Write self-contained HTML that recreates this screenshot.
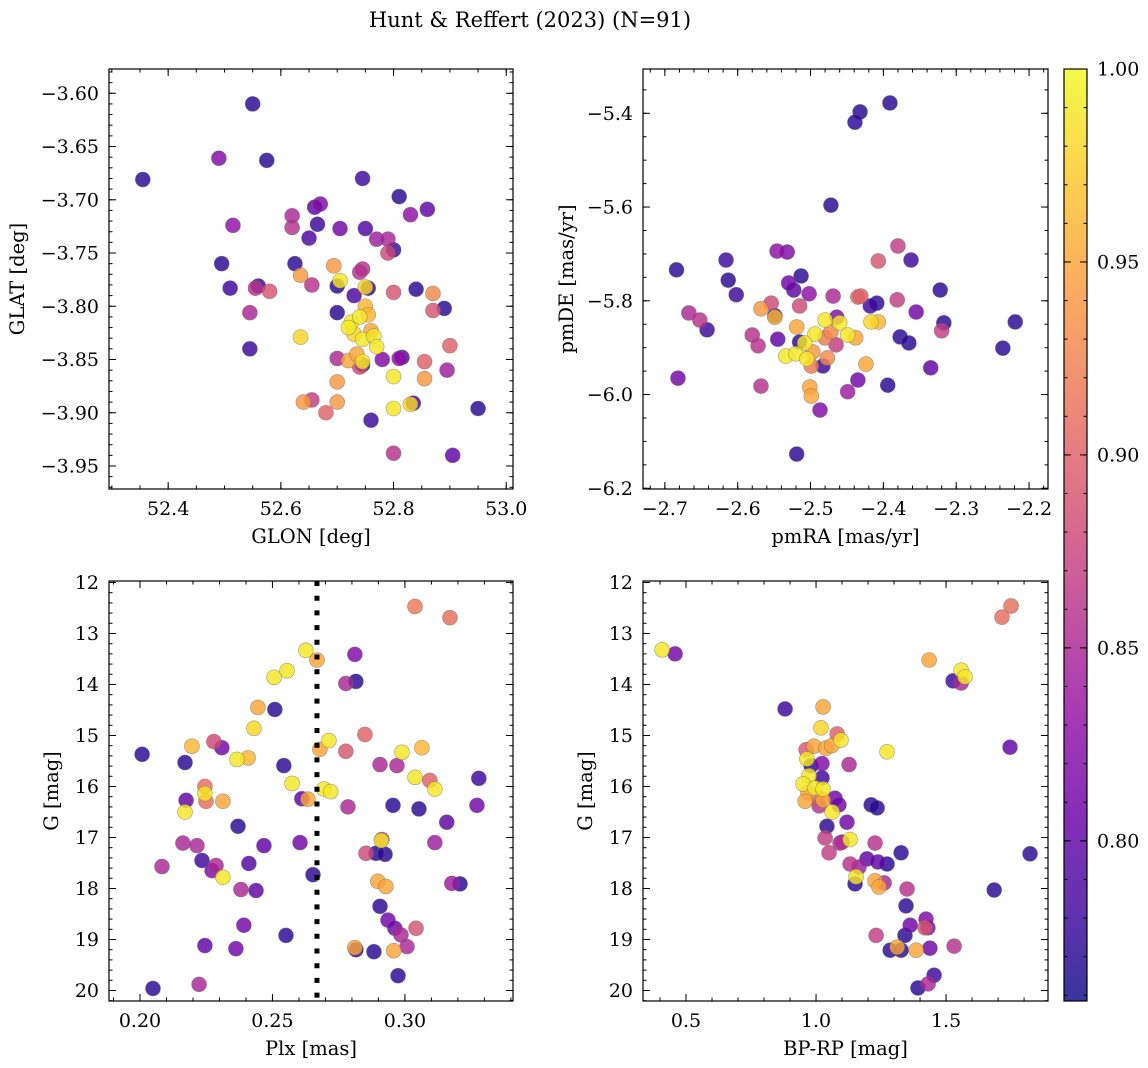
<!DOCTYPE html>
<html><head><meta charset="utf-8"><style>
html,body{margin:0;padding:0;background:#fff;}
svg{display:block;font-family:"DejaVu Serif","Liberation Serif",serif;}
</style></head><body>
<svg id="fig" width="1148" height="1068" viewBox="0 0 1148 1068" xmlns="http://www.w3.org/2000/svg">
<defs><linearGradient id="cbgrad" x1="0" y1="1" x2="0" y2="0">
<stop offset="0" stop-color="#0d0887"/><stop offset="0.1" stop-color="#41049d"/><stop offset="0.2" stop-color="#6a00a8"/><stop offset="0.3" stop-color="#8f0da4"/><stop offset="0.4" stop-color="#b12a90"/><stop offset="0.5" stop-color="#cc4778"/><stop offset="0.6" stop-color="#e16462"/><stop offset="0.7" stop-color="#f2844b"/><stop offset="0.8" stop-color="#fca636"/><stop offset="0.9" stop-color="#fcce25"/><stop offset="1" stop-color="#f0f921"/>
</linearGradient></defs>
<text x="530" y="27" font-size="21" text-anchor="middle">Hunt &amp; Reffert (2023) (N=91)</text>
</svg>
<script>
// ---- Panel 1: GLON vs GLAT ----
const p1_glon=[52.355,52.55,52.49,52.575,52.745,52.81,52.86,52.83,52.67,52.66,52.62,52.62,52.515,52.665,52.705,52.65,52.75,52.77,52.79,52.80,52.79,52.495,52.625,52.694,52.745,52.74,52.51,52.56,52.555,52.58,52.635,52.655,52.705,52.70,52.73,52.75,52.755,52.80,52.87,52.84,52.89,52.87,52.545,52.70,52.75,52.755,52.725,52.74,52.72,52.73,52.745,52.76,52.765,52.77,52.635,52.545,52.90,52.70,52.72,52.735,52.745,52.74,52.745,52.78,52.81,52.815,52.855,52.895,52.80,52.855,52.70,52.64,52.655,52.70,52.68,52.80,52.835,52.83,52.95,52.76,52.80,52.905];
const p1_glat=[-3.681,-3.610,-3.661,-3.663,-3.680,-3.697,-3.709,-3.714,-3.704,-3.707,-3.715,-3.726,-3.724,-3.723,-3.727,-3.736,-3.727,-3.737,-3.737,-3.747,-3.750,-3.760,-3.760,-3.762,-3.765,-3.768,-3.783,-3.781,-3.783,-3.786,-3.771,-3.780,-3.776,-3.781,-3.790,-3.782,-3.783,-3.787,-3.788,-3.784,-3.802,-3.804,-3.806,-3.806,-3.800,-3.808,-3.815,-3.810,-3.820,-3.826,-3.831,-3.823,-3.828,-3.838,-3.829,-3.840,-3.837,-3.849,-3.851,-3.845,-3.852,-3.857,-3.855,-3.850,-3.849,-3.848,-3.852,-3.860,-3.866,-3.868,-3.871,-3.890,-3.888,-3.890,-3.900,-3.896,-3.891,-3.892,-3.896,-3.907,-3.938,-3.940];
const p1_prob=[.77,.77,.82,.77,.78,.77,.80,.83,.82,.80,.85,.86,.83,.78,.81,.79,.79,.84,.85,.78,.88,.77,.77,.94,.86,.86,.78,.78,.86,.89,.94,.86,.99,.77,.79,.98,.77,.89,.93,.77,.77,.89,.85,.77,.96,.96,.99,.99,.99,.98,.99,.95,.99,.99,.98,.78,.90,.85,.95,.95,.99,.88,.78,.82,.83,.79,.90,.84,.99,.94,.94,.94,.87,.94,.90,.99,.78,.98,.77,.78,.86,.80];
const p1_xticks=[52.4,52.6,52.8,53.0];
const p1_xtlabels=["52.4","52.6","52.8","53.0"];
const p1_yticks=[-3.60,-3.65,-3.70,-3.75,-3.80,-3.85,-3.90,-3.95];
const p1_ytlabels=["\u22123.60","\u22123.65","\u22123.70","\u22123.75","\u22123.80","\u22123.85","\u22123.90","\u22123.95"];

// ---- Panel 2: pmRA vs pmDE ----
const p2_pmra=[-2.391,-2.432,-2.439,-2.472,-2.546,-2.532,-2.380,-2.407,-2.362,-2.616,-2.684,-2.613,-2.513,-2.530,-2.523,-2.502,-2.602,-2.469,-2.322,-2.435,-2.431,-2.554,-2.515,-2.418,-2.409,-2.381,-2.355,-2.667,-2.652,-2.642,-2.568,-2.549,-2.549,-2.317,-2.320,-2.219,-2.236,-2.464,-2.480,-2.460,-2.417,-2.407,-2.519,-2.494,-2.449,-2.438,-2.472,-2.480,-2.508,-2.465,-2.580,-2.572,-2.545,-2.515,-2.534,-2.520,-2.505,-2.497,-2.477,-2.499,-2.483,-2.424,-2.377,-2.365,-2.335,-2.682,-2.568,-2.501,-2.499,-2.435,-2.394,-2.449,-2.487,-2.519];
const p2_pmde=[-5.378,-5.397,-5.419,-5.596,-5.694,-5.696,-5.683,-5.715,-5.713,-5.713,-5.734,-5.756,-5.747,-5.762,-5.777,-5.785,-5.787,-5.790,-5.777,-5.792,-5.790,-5.805,-5.811,-5.811,-5.805,-5.798,-5.824,-5.826,-5.841,-5.862,-5.817,-5.832,-5.835,-5.847,-5.864,-5.845,-5.901,-5.835,-5.841,-5.847,-5.845,-5.845,-5.856,-5.871,-5.873,-5.879,-5.866,-5.879,-5.890,-5.894,-5.873,-5.896,-5.882,-5.888,-5.918,-5.913,-5.924,-5.909,-5.922,-5.939,-5.939,-5.935,-5.877,-5.890,-5.943,-5.965,-5.982,-5.984,-6.003,-5.969,-5.980,-5.994,-6.033,-6.127];
const p2_prob=[.77,.77,.77,.77,.83,.82,.87,.89,.78,.78,.77,.77,.77,.81,.80,.83,.78,.85,.77,.90,.90,.88,.88,.78,.77,.87,.81,.85,.86,.78,.94,.77,.96,.77,.87,.77,.77,.82,.99,.99,.98,.96,.95,.99,.99,.95,.93,.92,.99,.87,.86,.86,.80,.77,.99,.99,.99,.94,.93,.92,.78,.95,.77,.77,.80,.81,.86,.95,.95,.81,.77,.84,.82,.77];
const p2_xticks=[-2.7,-2.6,-2.5,-2.4,-2.3,-2.2];
const p2_xtlabels=["\u22122.7","\u22122.6","\u22122.5","\u22122.4","\u22122.3","\u22122.2"];
const p2_yticks=[-5.4,-5.6,-5.8,-6.0,-6.2];
const p2_ytlabels=["\u22125.4","\u22125.6","\u22125.8","\u22126.0","\u22126.2"];

// ---- Panel 3: Plx vs G ----
const p3_plx=[0.3038,0.3170,0.2626,0.2668,0.2811,0.2555,0.2506,0.2777,0.2815,0.2445,0.2509,0.2430,0.2849,0.2279,0.2309,0.2196,0.2713,0.2679,0.2777,0.2989,0.3064,0.2008,0.2170,0.2366,0.2408,0.2543,0.2906,0.2970,0.3279,0.3038,0.3094,0.3113,0.2245,0.2245,0.2249,0.2313,0.2170,0.2174,0.2574,0.2611,0.2634,0.2694,0.2720,0.2785,0.2955,0.3053,0.3272,0.3158,0.2370,0.2162,0.2215,0.2468,0.2604,0.2913,0.2911,0.3113,0.2234,0.2083,0.2287,0.2272,0.2313,0.2411,0.2653,0.2853,0.2891,0.2925,0.2898,0.2928,0.3177,0.3208,0.2381,0.2438,0.2906,0.2936,0.2962,0.2985,0.3042,0.2392,0.2551,0.2245,0.2362,0.2811,0.2815,0.2883,0.2958,0.3008,0.2974,0.2223,0.2049];
const p3_g=[12.47,12.69,13.33,13.52,13.41,13.73,13.86,13.98,13.94,14.45,14.49,14.86,14.98,15.12,15.24,15.21,15.10,15.27,15.31,15.33,15.24,15.37,15.53,15.47,15.44,15.59,15.57,15.59,15.84,15.82,15.88,16.05,16.00,16.14,16.29,16.29,16.50,16.27,15.94,16.24,16.25,16.05,16.10,16.40,16.37,16.44,16.37,16.70,16.78,17.11,17.16,17.16,17.10,17.04,17.06,17.10,17.45,17.57,17.55,17.65,17.78,17.51,17.73,17.31,17.31,17.33,17.86,17.96,17.90,17.91,18.02,18.04,18.35,18.62,18.78,18.91,18.78,18.72,18.92,19.12,19.18,19.16,19.20,19.24,19.22,19.14,19.71,19.88,19.96];
const p3_prob=[.92,.91,.99,.95,.82,.99,.99,.85,.77,.95,.77,.98,.90,.88,.81,.96,.99,.95,.89,.99,.96,.77,.77,.99,.96,.77,.85,.85,.78,.99,.90,.99,.91,.99,.91,.95,.99,.80,.99,.80,.95,.99,.99,.85,.77,.77,.81,.80,.77,.85,.85,.80,.81,.86,.99,.84,.78,.85,.85,.82,.99,.79,.77,.88,.77,.77,.95,.95,.84,.77,.85,.80,.77,.81,.81,.85,.89,.81,.77,.80,.81,.95,.77,.77,.95,.85,.77,.85,.77];
const p3_xticks=[0.20,0.25,0.30];
const p3_xtlabels=["0.20","0.25","0.30"];
const p3_yticks=[12,13,14,15,16,17,18,19,20];
const p3_ytlabels=["12","13","14","15","16","17","18","19","20"];
const p3_vline=[0.2668];

// ---- Panel 4: BP-RP vs G ----
const p4_bprp=[0.408,0.458,1.750,1.715,1.435,1.558,1.573,1.527,1.558,0.881,1.027,1.019,1.081,1.096,1.746,1.273,0.962,0.992,1.038,1.060,0.965,0.981,1.023,1.127,0.973,1.023,0.950,0.996,1.027,0.969,1.008,1.073,0.958,1.027,1.088,1.012,1.212,1.235,1.062,1.119,1.042,1.035,1.092,1.100,1.131,1.227,1.327,1.823,1.050,1.196,1.238,1.273,1.131,1.165,1.154,1.150,1.227,1.242,1.262,1.685,1.350,1.346,1.423,1.362,1.419,1.430,1.231,1.342,1.285,1.327,1.312,1.385,1.438,1.531,1.454,1.431,1.392];
const p4_g=[13.32,13.40,12.46,12.68,13.52,13.72,13.85,13.93,13.97,14.48,14.44,14.85,14.97,15.09,15.23,15.32,15.28,15.21,15.25,15.20,15.46,15.59,15.55,15.57,15.79,15.83,15.95,16.03,16.05,16.12,16.21,16.23,16.29,16.27,16.36,16.38,16.36,16.42,16.50,16.70,16.78,17.01,17.11,17.09,17.04,17.11,17.30,17.32,17.30,17.42,17.48,17.52,17.52,17.58,17.77,17.91,17.85,17.97,17.89,18.03,18.01,18.34,18.60,18.72,18.77,18.77,18.92,18.92,19.21,19.21,19.15,19.21,19.17,19.13,19.70,19.87,19.95];
const p4_prob=[.99,.81,.91,.91,.95,.99,.99,.78,.85,.78,.95,.98,.90,.99,.80,.99,.89,.95,.95,.95,.99,.77,.82,.85,.99,.78,.99,.99,.99,.95,.90,.81,.95,.95,.81,.86,.77,.77,.99,.81,.77,.87,.86,.82,.99,.86,.77,.77,.87,.80,.80,.77,.86,.84,.99,.77,.95,.95,.85,.77,.86,.77,.82,.81,.89,.82,.87,.77,.77,.77,.95,.95,.81,.86,.78,.85,.77];
const p4_xticks=[0.5,1.0,1.5];
const p4_xtlabels=["0.5","1.0","1.5"];
const p4_yticks=[12,13,14,15,16,17,18,19,20];
const p4_ytlabels=["12","13","14","15","16","17","18","19","20"];

// ---- Colorbar ----
const cb_ticks=[0.80,0.85,0.90,0.95,1.00];
const cb_tlabels=["0.80","0.85","0.90","0.95","1.00"];
const cb_min=0.7585, cb_max=1.0;

const NS="http://www.w3.org/2000/svg";
const svg=document.getElementById('fig');
function mk(tag,attrs,parent){const e=document.createElementNS(NS,tag);for(const k in attrs)e.setAttribute(k,attrs[k]);(parent||svg).appendChild(e);return e;}
const stops=[[13,8,135],[65,4,157],[106,0,168],[143,13,164],[177,42,144],[204,71,120],[225,100,98],[242,132,75],[252,166,54],[252,206,37],[240,249,33]];
function plasma(v){let t=(v-cb_min)/(cb_max-cb_min);t=Math.max(0,Math.min(1,t));const f=t*10;const i=Math.min(9,Math.floor(f));const r=f-i;const a=stops[i],b=stops[i+1];return `rgb(${Math.round(a[0]+(b[0]-a[0])*r)},${Math.round(a[1]+(b[1]-a[1])*r)},${Math.round(a[2]+(b[2]-a[2])*r)})`;}
function lin(d0,d1,r0,r1){return v=>r0+(v-d0)/(d1-d0)*(r1-r0);}
const TICKFS=19, LABFS=19.5;

function panel(cfg){
  const g=mk('g',{});
  
  
  const {L,R,T,B}=cfg;
  const sx=lin(cfg.xd[0],cfg.xd[1],L,R), sy=lin(cfg.yd[0],cfg.yd[1],B,T);
  const idx=cfg.xs.map((_,i)=>i).sort((a,b)=>cfg.ps[a]-cfg.ps[b]);
  const pg=mk('g',{},g);
  
  
  idx.forEach(i=>{
    const c=mk('circle',{cx:sx(cfg.xs[i]),cy:sy(cfg.ys[i]),r:7.5,fill:plasma(cfg.ps[i]),'fill-opacity':0.82,stroke:'#666','stroke-width':0.6,'stroke-opacity':0.6},pg);
    
    
  });
  if(cfg.vline){cfg.vline.forEach(v=>{const l=mk('line',{x1:sx(v),x2:sx(v),y1:T,y2:B,stroke:'#000','stroke-width':5,'stroke-dasharray':'5 9.7'},g);
    
    });}
  const tg=mk('g',{stroke:'#000','stroke-width':1},g);
  function xt(v,len){const x=sx(v);if(x<L-0.5||x>R+0.5)return;mk('line',{x1:x,x2:x,y1:B,y2:B-len},tg);mk('line',{x1:x,x2:x,y1:T,y2:T+len},tg);}
  function yt(v,len){const y=sy(v);if(y<T-0.5||y>B+0.5)return;mk('line',{x1:L,x2:L+len,y1:y,y2:y},tg);mk('line',{x1:R,x2:R-len,y1:y,y2:y},tg);}
  const xmn=Math.min(...cfg.xd),xmx=Math.max(...cfg.xd),ymn=Math.min(...cfg.yd),ymx=Math.max(...cfg.yd);
  for(let k=Math.ceil(xmn/cfg.xminor-1e-6);k*cfg.xminor<=xmx+1e-9;k++)xt(k*cfg.xminor,3.5);
  for(let k=Math.ceil(ymn/cfg.yminor-1e-6);k*cfg.yminor<=ymx+1e-9;k++)yt(k*cfg.yminor,3.5);
  cfg.xticks.forEach((v,i)=>{xt(v,7);const t=mk('text',{x:sx(v),y:B+26,'font-size':TICKFS,'text-anchor':'middle'},g);t.textContent=cfg.xtl[i];
    });
  cfg.yticks.forEach((v,i)=>{yt(v,7);const t=mk('text',{x:L-10,y:sy(v)+6.5,'font-size':TICKFS,'text-anchor':'end'},g);t.textContent=cfg.ytl[i];
    });
  const fr=mk('rect',{x:L,y:T,width:R-L,height:B-T,fill:'none',stroke:'#000','stroke-width':1.2},g);
  
  const xl=mk('text',{x:(L+R)/2,y:B+54,'font-size':LABFS,'text-anchor':'middle'},g);xl.textContent=cfg.xlab;
  
  const yl=mk('text',{x:0,y:0,'font-size':LABFS,'text-anchor':'middle',transform:`translate(${cfg.ylx},${(T+B)/2}) rotate(-90)`},g);yl.textContent=cfg.ylab;
  
}
panel({name:'glon-glat-panel',L:109,R:513,T:69,B:489,xd:[52.295,53.012],yd:[-3.9716,-3.5772],xs:p1_glon,ys:p1_glat,ps:p1_prob,xticks:p1_xticks,xtl:p1_xtlabels,yticks:p1_yticks,ytl:p1_ytlabels,xminor:0.05,yminor:0.01,xlab:'GLON [deg]',ylab:'GLAT [deg]',ylx:24});
panel({name:'proper-motion-panel',L:643,R:1048,T:69,B:489,xd:[-2.730,-2.174],yd:[-6.2015,-5.3055],xs:p2_pmra,ys:p2_pmde,ps:p2_prob,xticks:p2_xticks,xtl:p2_xtlabels,yticks:p2_yticks,ytl:p2_ytlabels,xminor:0.02,yminor:0.05,xlab:'pmRA [mas/yr]',ylab:'pmDE [mas/yr]',ylx:573});
panel({name:'parallax-magnitude-panel',L:109,R:513,T:581,B:1001,xd:[0.1883,0.3408],yd:[20.206,11.971],xs:p3_plx,ys:p3_g,ps:p3_prob,xticks:p3_xticks,xtl:p3_xtlabels,yticks:p3_yticks,ytl:p3_ytlabels,xminor:0.01,yminor:0.2,xlab:'Plx [mas]',ylab:'G [mag]',ylx:58,vline:p3_vline});
panel({name:'color-magnitude-panel',L:643,R:1048,T:581,B:1001,xd:[0.3346,1.892],yd:[20.206,11.971],xs:p4_bprp,ys:p4_g,ps:p4_prob,xticks:p4_xticks,xtl:p4_xtlabels,yticks:p4_yticks,ytl:p4_ytlabels,xminor:0.1,yminor:0.2,xlab:'BP-RP [mag]',ylab:'G [mag]',ylx:592});

const cg=mk('g',{});


const cbT=69,cbB=1001,cbL=1064,cbR=1087;
const cy=lin(cb_min,cb_max,cbB,cbT);
mk('rect',{x:cbL,y:cbT,width:cbR-cbL,height:cbB-cbT,fill:'url(#cbgrad)','fill-opacity':0.82},cg);
for(let k=76;k<=100;k++){const y=cy(k/100);mk('line',{x1:cbR,x2:cbR-3.5,y1:y,y2:y,stroke:'#000','stroke-width':1},cg);mk('line',{x1:cbL,x2:cbL+3.5,y1:y,y2:y,stroke:'#000','stroke-width':1},cg);}
cb_ticks.forEach((v,i)=>{const y=cy(v);mk('line',{x1:cbR,x2:cbR-7,y1:y,y2:y,stroke:'#000','stroke-width':1},cg);mk('line',{x1:cbL,x2:cbL+7,y1:y,y2:y,stroke:'#000','stroke-width':1},cg);
  const t=mk('text',{x:cbR+10,y:y+6.5,'font-size':TICKFS},cg);t.textContent=cb_tlabels[i];
  });
mk('rect',{x:cbL,y:cbT,width:cbR-cbL,height:cbB-cbT,fill:'none',stroke:'#000','stroke-width':1.2},cg);
</script>
</body></html>
